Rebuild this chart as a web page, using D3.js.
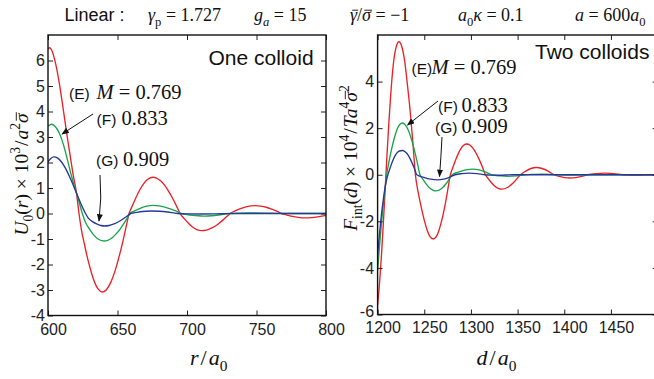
<!DOCTYPE html>
<html>
<head>
<meta charset="utf-8">
<script src="https://cdn.jsdelivr.net/npm/d3@7"></script>
<style>
  body { margin: 0; background: #fff; }
  svg { display: block; }
  .tick text { font-family: "Liberation Sans", Arial, sans-serif; font-size: 16px; fill: #222; }
  .tick line { stroke: #222; stroke-width: 1; }
</style>
</head>
<body>
<svg id="chart" width="654" height="379"></svg>
<script>
// ---- One colloid: U0(r) x 10^3 / a^2 sigma-bar, against r/a0 ----
const rE = [600,601,602.5,604,606,608,610,612,614,616,618,620.5,622.3,624,626,628,630,632,634,636,639,642,645,648,651,654,657,658.3,660,663,666,669,672,675.5,678,681,684,687,690,693,695,698,701,704,707,710.5,714,718,722,726,729,731,735,739,743,749,753,757,761,765,768,772,776,780,785,790,795,800];
const uE = [6.45,6.5,6.42,6.2,5.75,5.15,4.45,3.7,2.95,2.25,1.55,0.8,0.0,-0.62,-1.15,-1.65,-2.08,-2.46,-2.76,-2.96,-3.08,-2.99,-2.72,-2.29,-1.72,-1.06,-0.32,0.0,0.22,0.59,0.92,1.18,1.35,1.42,1.39,1.28,1.1,0.85,0.56,0.23,0.0,-0.2,-0.38,-0.53,-0.63,-0.67,-0.65,-0.56,-0.43,-0.25,-0.1,0.0,0.11,0.2,0.27,0.31,0.29,0.245,0.17,0.08,0.0,-0.06,-0.115,-0.15,-0.17,-0.16,-0.12,-0.07];

const rF = [600,602.5,605,608,611,614,617,619,620.5,622.5,624.7,627,630,633,636,640.3,643,646,649,652,655,657,659,662,665,668,671,675.5,680,684,688,692,696,700,704,708,712,718,724,730,745,760,775,800];
const uF = [3.42,3.5,3.42,3.17,2.72,2.1,1.45,1.06,0.8,0.42,0.0,-0.35,-0.62,-0.85,-1.0,-1.08,-1.05,-0.96,-0.8,-0.6,-0.36,-0.18,0.0,0.09,0.17,0.24,0.29,0.32,0.3,0.25,0.18,0.1,0.0,-0.04,-0.07,-0.09,-0.1,-0.09,-0.05,0.0,0.02,0.01,0.0,0.0];

const rG = [600,602,604.3,607,610,613,616,618.5,620.5,623,625,627,629,632,635,638,640.5,644,648,652,656,659.5,664,668,674,680,686,693,700,710,725,740,800];
const uG = [2.02,2.16,2.22,2.17,2.0,1.73,1.38,1.07,0.8,0.47,0.22,0.0,-0.18,-0.32,-0.41,-0.47,-0.49,-0.47,-0.4,-0.285,-0.14,0.0,0.047,0.08,0.1,0.09,0.06,0.0,-0.015,-0.02,-0.01,0.0,0.0];

// ---- Two colloids: F_int(d) x 10^4 / T a^4 sigma-bar^2, against d/a0 ----
const dE = [1200,1202,1204,1206,1208,1210,1212,1214,1216,1218,1220,1222.9,1225.8,1228.8,1231.7,1234.6,1237.6,1240.5,1243.7,1246.9,1250,1253.2,1256.4,1259.6,1262.7,1265.7,1268.8,1271.9,1274.9,1278,1280.9,1283.8,1286.7,1289.6,1292.5,1295.4,1298.75,1302.1,1308.8,1312.2,1315.5,1318.4,1321.3,1327.1,1330,1332.9,1339.6,1346.3,1353,1358.7,1364.3,1370,1376.3,1382.7,1389,1394.7,1400.3,1406,1412.3,1418.7,1425,1434.5,1444,1453,1462,1470,1479,1490,1500];
const fE = [-5.6,-4.7,-3.55,-2.2,-0.7,0.8,2.2,3.4,4.4,5.1,5.5,5.71,5.52,4.94,3.95,2.86,1.48,0.0,-0.8,-1.42,-1.95,-2.39,-2.67,-2.76,-2.67,-2.39,-1.95,-1.38,-0.71,0.0,0.34,0.66,0.93,1.14,1.275,1.32,1.275,1.14,0.66,0.34,0.0,-0.16,-0.31,-0.537,-0.6,-0.62,-0.537,-0.31,0.0,0.155,0.268,0.31,0.268,0.155,0.0,-0.07,-0.121,-0.14,-0.121,-0.07,0.0,0.05,0.07,0.05,0.0,-0.02,-0.03,-0.01,0.0];

const dF = [1200,1202,1204,1206,1208,1209.7,1212.5,1215.3,1218.1,1220.9,1223.7,1226.5,1229.65,1232.8,1235.95,1239.1,1242.25,1245.4,1248.25,1251.1,1256.8,1259.65,1262.5,1268.3,1274.2,1280,1287.3,1294.7,1302,1308.7,1315.3,1322,1331,1340,1349,1358,1367,1376,1394,1410,1450,1500];
const fF = [-4.1,-3.1,-2.15,-1.3,-0.6,0.0,0.62,1.15,1.6,1.95,2.16,2.22,2.14,1.92,1.57,1.11,0.575,0.0,-0.18,-0.345,-0.6,-0.667,-0.69,-0.6,-0.345,0.0,0.12,0.208,0.24,0.208,0.12,0.0,-0.05,-0.07,-0.05,0.0,0.018,0.025,0.0,-0.01,0.0,0.0];

const dG = [1200,1202,1204,1206,1208,1210,1211,1213.5,1216,1218.5,1221,1223.5,1226.5,1229.1,1231.7,1236.8,1239.4,1242,1249.5,1257,1264.5,1270.7,1276.8,1283,1290.5,1298,1306.5,1315,1322.5,1330,1345,1500];
const fG = [-3.45,-2.55,-1.75,-1.1,-0.55,-0.15,0.0,0.3,0.58,0.8,0.95,1.02,1.04,1.0,0.9,0.52,0.27,0.0,-0.11,-0.19,-0.22,-0.19,-0.11,0.0,0.05,0.07,0.05,0.0,-0.015,-0.02,0.0,0.0];

const xTicksL = [600, 650, 700, 750, 800];
const yTicksL = [-4, -3, -2, -1, 0, 1, 2, 3, 4, 5, 6];
const xTicksR = [1200, 1250, 1300, 1350, 1400, 1450];
const yTicksR = [-6, -4, -2, 0, 2, 4];

const seriesColors = { E: "#ec2027", F: "#18a54c", G: "#27399a" };
const SANS = "'Liberation Sans', Arial, Helvetica, sans-serif";
const SERIF = "'Liberation Serif', 'Times New Roman', serif";

const svg = d3.select("#chart");

// arrowhead
svg.append("defs").append("marker")
  .attr("id", "arrow").attr("viewBox", "0 0 10 8")
  .attr("refX", 9).attr("refY", 4)
  .attr("markerWidth", 8).attr("markerHeight", 6)
  .attr("markerUnits", "userSpaceOnUse")
  .attr("orient", "auto")
  .append("path").attr("d", "M0,0 L10,4 L0,8 Z").attr("fill", "#111");

// Writes a run of math pieces into a <text>: [string, flags, dx] where flags may hold
// "i" (italic), "sub", "sup", "sans", "bar" (overbar). Bars are drawn into `parent`.
function mathText(parent, sel, parts, size) {
  let shift = 0;
  const barred = [];
  parts.forEach(p => {
    const flags = (p[1] || "").split(" ");
    const t = sel.append("tspan").text(p[0]);
    let target = 0, fs = size;
    if (flags.includes("sub")) { target = 0.25 * size; fs = size * 0.7; }
    if (flags.includes("sup")) { target = -0.4 * size; fs = size * 0.7; }
    t.attr("dy", target - shift);
    shift = target;
    t.attr("font-size", fs)
     .attr("font-style", flags.includes("i") ? "italic" : "normal")
     .attr("font-family", flags.includes("sans") ? SANS : SERIF);
    if (p[2] !== undefined) t.attr("dx", p[2]);
    if (flags.includes("bar")) barred.push([t.node(), fs]);
  });
  barred.forEach(([node, fs]) => {
    const p0 = node.getStartPositionOfChar(0);
    const w = node.getComputedTextLength();
    const yb = p0.y - 0.6 * fs;
    parent.append("line")
      .attr("x1", p0.x + 0.12 * fs).attr("x2", p0.x + w + 0.06 * fs)
      .attr("y1", yb).attr("y2", yb)
      .attr("stroke", "#111").attr("stroke-width", 0.9);
  });
}

function panel(opts) {
  const { xDomain, xRange, yDomain, yRange, xTicks, yTicks, series, id, xPad, yPad } = opts;
  const x = d3.scaleLinear().domain(xDomain).range(xRange);
  const y = d3.scaleLinear().domain(yDomain).range(yRange);
  const g = svg.append("g");

  g.append("clipPath").attr("id", id)
    .append("rect")
    .attr("x", xRange[0]).attr("y", yRange[1])
    .attr("width", xRange[1] - xRange[0]).attr("height", yRange[0] - yRange[1]);

  const line = d3.line().x(d => x(d[0])).y(d => y(d[1])).curve(d3.curveMonotoneX);
  const curves = g.append("g").attr("clip-path", `url(#${id})`);
  series.forEach(s => {
    curves.append("path")
      .datum(d3.zip(s.x, s.y))
      .attr("fill", "none")
      .attr("stroke", s.color)
      .attr("stroke-width", 1.35)
      .attr("d", line);
  });

  // inward ticks on all four sides
  const bottom = g.append("g").attr("transform", `translate(0,${yRange[0]})`)
    .call(d3.axisBottom(x).tickValues(xTicks).tickSize(-5).tickPadding(xPad).tickFormat(d3.format("d")));
  bottom.selectAll("text").attr("dx", 5);
  const left = g.append("g").attr("transform", `translate(${xRange[0]},0)`)
    .call(d3.axisLeft(y).tickValues(yTicks).tickSize(-5).tickPadding(yPad).tickFormat(d3.format("d")));
  left.selectAll("text").text(d => d < 0 ? "-" + Math.abs(d) : d)
    .attr("dy", d => d === yDomain[0] && opts.lift ? "0.1em" : "0.32em");
  g.append("g").attr("transform", `translate(0,${yRange[1]})`)
    .call(d3.axisTop(x).tickValues(xTicks).tickSize(-5).tickFormat(""));
  g.append("g").attr("transform", `translate(${xRange[1]},0)`)
    .call(d3.axisRight(y).tickValues(yTicks).tickSize(-5).tickFormat(""));
  g.selectAll(".domain").remove();

  g.append("rect")
    .attr("x", xRange[0]).attr("y", yRange[1])
    .attr("width", xRange[1] - xRange[0]).attr("height", yRange[0] - yRange[1])
    .attr("fill", "none").attr("stroke", "#111").attr("stroke-width", 1.4);
  return { x, y, g };
}

// left panel: one colloid
panel({
  id: "clipL",
  xDomain: [600, 800], xRange: [48, 326],
  yDomain: [-4, 7], yRange: [315.5, 35],
  xTicks: xTicksL, yTicks: yTicksL, xPad: 8.5, yPad: 3,
  series: [
    { x: rE, y: uE, color: seriesColors.E },
    { x: rF, y: uF, color: seriesColors.F },
    { x: rG, y: uG, color: seriesColors.G }
  ]
});

// right panel: two colloids
panel({
  id: "clipR",
  xDomain: [1200, 1500], xRange: [377.6, 657.6],
  yDomain: [-6, 6], yRange: [314.5, 35],
  xTicks: xTicksR, yTicks: yTicksR, xPad: 7.5, yPad: 3.5, lift: true,
  series: [
    { x: dE, y: fE, color: seriesColors.E },
    { x: dF, y: fF, color: seriesColors.F },
    { x: dG, y: fG, color: seriesColors.G }
  ]
});

// ---- title line ----
const titleG = svg.append("g");
titleG.append("text").attr("x", 64.5).attr("y", 21)
  .attr("font-family", SANS).attr("font-size", 18).attr("fill", "#111").text("Linear :");
const titleParts = [
  [148, [["γ", "i"], ["p", "sub"], [" = 1.727"]]],
  [254, [["g", "i"], ["a", "i sub"], [" = 15"]]],
  [350, [["γ", "i bar"], ["/"], ["σ", "i bar"], [" = −1"]]],
  [458, [["a", "i"], ["0", "sub"], ["κ", "i"], [" = 0.1"]]],
  [575, [["a", "i"], [" = 600"], ["a", "i"], ["0", "sub"]]]
];
titleParts.forEach(([tx, parts]) => {
  const t = titleG.append("text").attr("x", tx).attr("y", 21).attr("fill", "#111");
  mathText(titleG, t, parts, 18);
});

// ---- panel annotations ----
const notes = svg.append("g");
function sansLabel(x, y, s, size) {
  notes.append("text").attr("x", x).attr("y", y).attr("font-family", SANS)
    .attr("font-size", size).attr("fill", "#111").text(s);
}
function mathLabel(x, y, parts, size) {
  const t = notes.append("text").attr("x", x).attr("y", y).attr("fill", "#111");
  mathText(notes, t, parts, size);
}

sansLabel(208.5, 65, "One colloid", 21);
sansLabel(535, 59, "Two colloids", 21);

sansLabel(69, 98.5, "(E)", 15.5);
mathLabel(96.5, 98.5, [["M", "i"], [" = 0.769"]], 20.5);
sansLabel(96.5, 124.5, "(F)", 15.5);
mathLabel(121.5, 124.5, [["0.833"]], 20.5);
sansLabel(96, 166, "(G)", 15.5);
mathLabel(123, 166, [["0.909"]], 20.5);

sansLabel(411.5, 74, "(E)", 15.5);
mathLabel(431.5, 74, [["M", "i"], [" = 0.769"]], 20.5);
sansLabel(438, 111.5, "(F)", 15.5);
mathLabel(461.5, 111.5, [["0.833"]], 20.5);
sansLabel(435, 133, "(G)", 15.5);
mathLabel(461.5, 133, [["0.909"]], 20.5);

// pointer arrows
const arrows = [
  "M93,114 L62,134",
  "M100,175 Q102,198 99,221",
  "M438,101 L407.5,125",
  "M442,137 Q441,157 439.5,176.5"
];
arrows.forEach(d => {
  notes.append("path").attr("d", d).attr("fill", "none")
    .attr("stroke", "#111").attr("stroke-width", 1)
    .attr("marker-end", "url(#arrow)");
});

// ---- axis titles ----
mathLabel(190, 365, [["r", "i"], ["/", "", 2], ["a", "i", 2], ["0", "sub"]], 22);
mathLabel(476.5, 365, [["d", "i"], ["/", "", 2], ["a", "i", 2], ["0", "sub"]], 22);

const ylG = svg.append("g").attr("transform", "translate(28,174.5) rotate(-90)");
const yl = ylG.append("text").attr("text-anchor", "middle").attr("fill", "#111");
mathText(ylG, yl, [["U", "i"], ["0", "sub"], ["("], ["r", "i"], [")"], [" × 10"], ["3", "sup"], ["/", "", 1], ["a", "i", 1], ["2", "sup"], ["σ", "i bar"]], 19.5);

const yrG = svg.append("g").attr("transform", "translate(357,158) rotate(-90)");
const yr = yrG.append("text").attr("text-anchor", "middle").attr("fill", "#111");
mathText(yrG, yr, [["F", "i"], ["int", "sub"], ["("], ["d", "i"], [")"], [" × 10"], ["4", "sup"], ["/", "", 1], ["Ta", "i", 1], ["4", "sup"], ["σ", "i bar"], ["2", "sup"]], 19.5);
</script>
</body>
</html>
